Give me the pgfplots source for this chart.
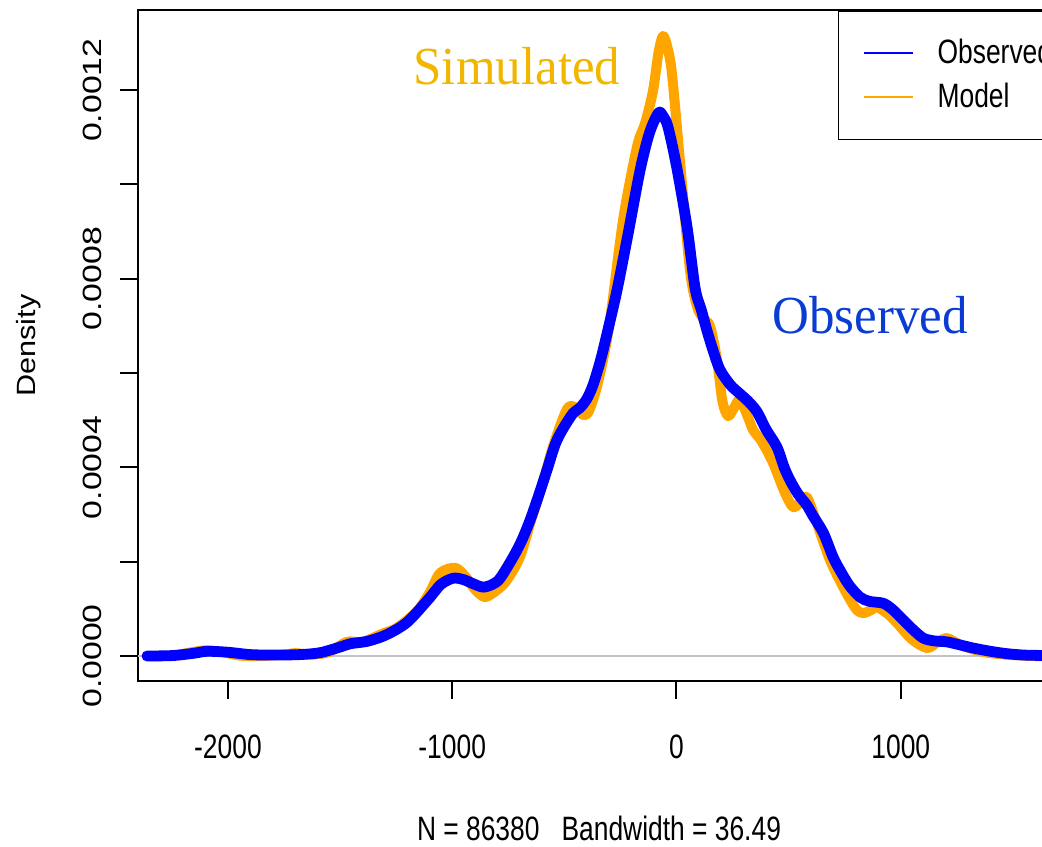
\documentclass[border=0pt]{standalone}
\usepackage{fontspec}
\setmainfont{Liberation Sans}
\newfontfamily\annserif{Liberation Serif}
\usepackage{graphicx}
\usepackage{pgfplots}
\usepackage{pgfplotstable}
\pgfplotsset{compat=1.18}
\definecolor{obsblue}{HTML}{0000FF}
\definecolor{modorange}{HTML}{FFA500}
\definecolor{simtext}{HTML}{F2B600}
\definecolor{obstext}{HTML}{0A3CD4}
\definecolor{zerogray}{HTML}{C4C4C4}
\newcommand\labfont{\fontsize{13.2}{15}\selectfont}
\newcommand\annfont{\annserif\fontsize{25.5}{30}\selectfont}
\newcommand\sx[1]{\scalebox{1}[1.28]{#1}}
\newcommand\sy[1]{\scalebox{1.28}[1]{#1}}

% observed density
\pgfplotstableread{
x y
-2361 0.0
-2245 0.000001
-2150 0.000006
-2093 0.000010
-2000 0.000008
-1900 0.000003
-1800 0.000002
-1680 0.000003
-1590 0.000007
-1500 0.000019
-1455 0.000026
-1380 0.000031
-1308 0.000042
-1246 0.000057
-1200 0.000072
-1157 0.000093
-1098 0.000125
-1050 0.000152
-996 0.000165
-950 0.000162
-900 0.000152
-862 0.000146
-820 0.000152
-786 0.000165
-728 0.000210
-690 0.000245
-653 0.000288
-615 0.000340
-577 0.000395
-540 0.000450
-506 0.000482
-461 0.000515
-431 0.000526
-400 0.000545
-372 0.000575
-340 0.000625
-310 0.000683
-266 0.000774
-216 0.000895
-162 0.001031
-120 0.001110
-80 0.001152
-60 0.001145
-38 0.001122
0 0.001039
47 0.000910
83 0.000780
110 0.000735
136 0.000690
165 0.000645
194 0.000607
240 0.000575
283 0.000556
320 0.000540
359 0.000518
400 0.000480
448 0.000443
480 0.000400
506 0.000373
540 0.000345
581 0.000320
609 0.000297
655 0.000261
698 0.000210
729 0.000182
770 0.000150
818 0.000125
860 0.000116
921 0.000112
960 0.000100
997 0.000083
1050 0.000058
1100 0.000038
1150 0.000032
1205 0.000030
1260 0.000024
1322 0.000017
1400 0.000010
1473 0.000005
1550 0.000002
1650 0.000001
1720 0.0
}\obsdata

% model density
\pgfplotstableread{
x y
-2361 0.0
-2250 0.000001
-2150 0.000009
-2100 0.000012
-2030 0.000009
-1950 0.000001
-1850 0.000000
-1750 0.000003
-1700 0.000006
-1630 0.000003
-1550 0.000008
-1470 0.000030
-1400 0.000030
-1308 0.000048
-1246 0.000060
-1157 0.000095
-1100 0.000135
-1054 0.000176
-987 0.000187
-940 0.000168
-900 0.000142
-854 0.000125
-800 0.000140
-756 0.000161
-698 0.000210
-650 0.000285
-600 0.000360
-550 0.000445
-488 0.000524
-450 0.000527
-416 0.000511
-390 0.000520
-350 0.000580
-300 0.000700
-238 0.000925
-176 0.001080
-140 0.001130
-105 0.001198
-80 0.001280
-60 0.001315
-40 0.001290
-20 0.001234
16 0.001046
60 0.000819
91 0.000742
120 0.000715
149 0.000700
180 0.000630
205 0.000540
230 0.000509
255 0.000525
283 0.000543
320 0.000505
342 0.000479
380 0.000455
430 0.000410
480 0.000350
519 0.000316
550 0.000325
581 0.000337
620 0.000290
684 0.000204
750 0.000140
800 0.000100
832 0.000091
870 0.000098
893 0.000104
940 0.000090
983 0.000070
1050 0.000035
1117 0.000017
1160 0.000028
1205 0.000038
1260 0.000025
1322 0.000014
1400 0.000006
1500 0.000002
1600 0.000000
1720 0.0
}\moddata

\begin{document}
\begin{tikzpicture}
\begin{axis}[
    at={(69pt,82.5pt)}, anchor=south west,
    scale only axis,
    width=461pt, height=335.5pt,
    xmin=-2401, xmax=1710,
    ymin=-0.000053, ymax=0.00137,
    axis line style={black, line width=1pt},
    tick align=outside,
    xtick pos=bottom, ytick pos=left,
    major tick length=9pt,
    tick style={black, line width=1pt},
    xtick={-2000,-1000,0,1000},
    xticklabels={\sx{-2000},\sx{-1000},\sx{0},\sx{1000}},
    ytick={0,0.0002,0.0004,0.0006,0.0008,0.001,0.0012},
    yticklabels={\sy{0.0000},,\sy{0.0004},,\sy{0.0008},,\sy{0.0012}},
    scaled y ticks=false,
    xticklabel style={font=\labfont, anchor=center, inner sep=0pt, yshift=-23.75pt},
    yticklabel style={font=\labfont, anchor=center, inner sep=0pt, xshift=-14pt, rotate=90},
    xlabel={\sx{N = 86380\ \ \ Bandwidth = 36.49}},
    xlabel style={font=\labfont, at={([yshift=-73.5pt]axis description cs:0.5,0)}, anchor=center},
    ylabel={\scalebox{1.16}[1]{Density}},
    ylabel style={font=\labfont, at={([xshift=-54.5pt]axis description cs:0,0.5)}, anchor=center},
    legend style={
      at={(rel axis cs:0.759,1)}, anchor=north west,
      draw=black, line width=0.8pt, fill=white,
      inner xsep=12pt, inner ysep=14.3pt,
      row sep=8.2pt, column sep=12pt,
      font=\labfont,
      nodes={inner sep=0pt},
    },
    legend cell align=left,
    reverse legend,
    legend image code/.code={\draw[#1, line width=1pt, line cap=butt] (0pt,0pt) -- (24.5pt,0pt);},
]
\addplot[draw=zerogray, line width=0.6pt, forget plot] coordinates {(-2401,0) (1710,0)};
\addplot[modorange, line width=5pt, line cap=round, line join=round, smooth, tension=0.5] table[x=x,y=y] {\moddata};
\addlegendentry{\sx{Model}}
\addplot[obsblue, line width=5.4pt, line cap=round, line join=round, smooth, tension=0.5] table[x=x,y=y] {\obsdata};
\addlegendentry{\sx{Observed}}
\node[anchor=base, text=simtext, font=\annfont, inner sep=0pt] at (axis cs:-711,0.001211) {\scalebox{1}[1.05]{Simulated}};
\node[anchor=base, text=obstext, font=\annfont, inner sep=0pt] at (axis cs:863,0.000685) {\scalebox{1}[1.05]{Observed}};
\end{axis}
\pgfresetboundingbox
\useasboundingbox (0,0) rectangle (521pt,423pt);
\end{tikzpicture}
\end{document}
